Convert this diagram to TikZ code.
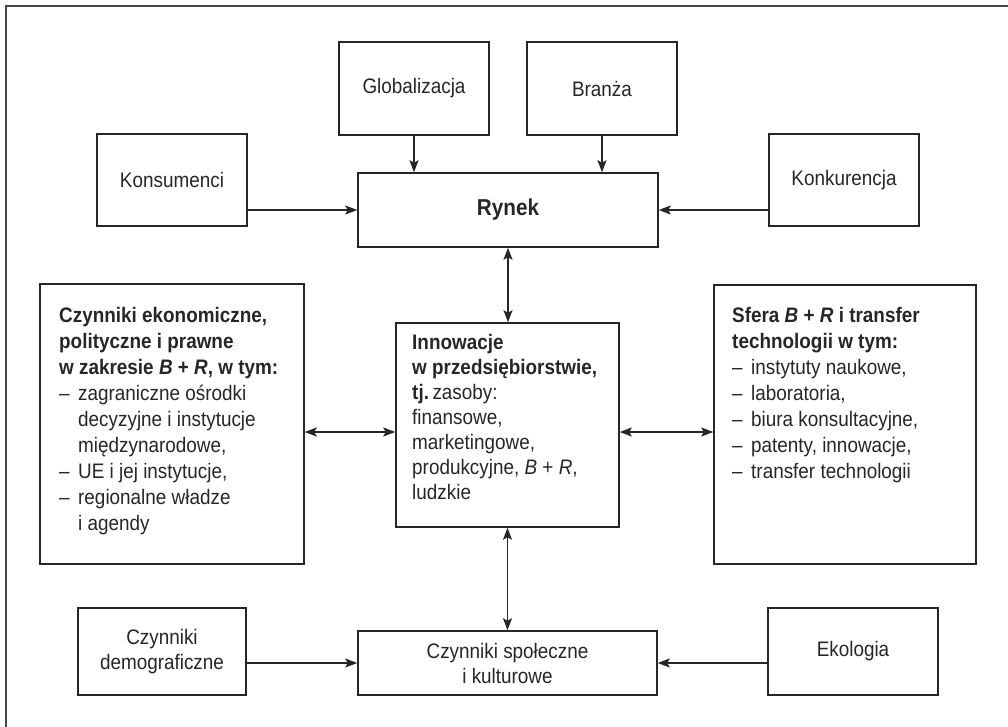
\documentclass[tikz,border=0pt]{standalone}
\usepackage{fontspec}
\setmainfont[FakeStretch=0.9]{Liberation Sans}
\usetikzlibrary{arrows.meta}
\definecolor{ink}{HTML}{262626}
\newcommand{\BR}{\textit{B}~+~\textit{R}}
\newcommand{\itm}{\makebox[19pt][l]{–}}
\newcommand{\ind}{\hspace*{19pt}}
\begin{document}
\begin{tikzpicture}[x=1pt,y=-1pt,
  tip/.tip={Stealth[length=12pt,width=9pt,inset=2.5pt]},
  box/.style={draw=ink, line width=1.5pt, inner sep=0pt, text=ink,
    align=center, font=\fontsize{21}{25}\selectfont},
  body/.style={anchor=north west, inner sep=0pt, text=ink, align=left,
    font=\fontsize{21}{26}\selectfont},
  conn/.style={draw=ink, line width=1.5pt, -tip},
  dconn/.style={draw=ink, line width=1.5pt, tip-tip}]
\useasboundingbox (0,0) rectangle (1008,727);
% open frame: top and left edges only
\draw[ink!85, line width=2pt] (6,727) -- (6,6) -- (1008,6);

% upper row
\node[box, minimum width=150pt, minimum height=93pt] (glob) at (414,88.5) {Globalizacja};
\node[box, minimum width=150pt, minimum height=93pt] (branza) at (602,88.5) {Branża};
\node[box, minimum width=150pt, minimum height=92pt] (kons) at (172,180) {Konsumenci};
\node[box, minimum width=150pt, minimum height=92pt] (konk) at (844,180) {Konkurencja};
\node[box, minimum width=300pt, minimum height=74pt,
  font=\fontsize{23}{28}\selectfont\bfseries] (rynek) at (508,210) {Rynek};

% middle row
\node[box, minimum width=264pt, minimum height=280pt] (czyn) at (172,424) {};
\node[box, minimum width=223pt, minimum height=204pt] (innow) at (507.5,425) {};
\node[box, minimum width=262pt, minimum height=279pt] (sfera) at (845,424.5) {};

\node[body] (czynT) at (59,307) {%
  \textbf{Czynniki ekonomiczne,}\\
  \textbf{polityczne i prawne}\\
  \textbf{w zakresie \BR, w tym:}\\
  \itm zagraniczne ośrodki\\
  \ind decyzyjne i instytucje\\
  \ind międzynarodowe,\\
  \itm UE i jej instytucje,\\
  \itm regionalne władze\\
  \ind i agendy};

\node[body, font=\fontsize{21}{25}\selectfont] (innowT) at (412,334) {%
  \textbf{Innowacje}\\
  \textbf{w przedsiębiorstwie,}\\
  \textbf{tj.}\,zasoby:\\
  finansowe,\\
  marketingowe,\\
  produkcyjne, \BR,\\
  ludzkie};

\node[body] (sferaT) at (732,307) {%
  \textbf{Sfera \BR\ i transfer}\\
  \textbf{technologii w tym:}\\
  \itm instytuty naukowe,\\
  \itm laboratoria,\\
  \itm biura konsultacyjne,\\
  \itm patenty, innowacje,\\
  \itm transfer technologii};

% lower row
\node[box, minimum width=168pt, minimum height=87pt] (demo) at (162,651.5) {Czynniki\\demograficzne};
\node[box, minimum width=299pt, minimum height=64pt] (spol) at (507.5,663) {Czynniki społeczne\\i kulturowe};
\node[box, minimum width=170pt, minimum height=87pt] (eko) at (853,651.5) {Ekologia};

\coordinate (midrow) at (0,432);

% connectors
\draw[conn] (glob.south) -- (glob.south |- rynek.north);
\draw[conn] (branza.south) -- (branza.south |- rynek.north);
\draw[conn] (kons.east |- rynek.west) -- (rynek.west);
\draw[conn] (konk.west |- rynek.east) -- (rynek.east);
\draw[dconn] (rynek.south) -- (rynek.south |- innow.north);
\draw[dconn] (czyn.east |- midrow) -- (innow.west |- midrow);
\draw[dconn] (innow.east |- midrow) -- (sfera.west |- midrow);
\draw[dconn] (innow.south) -- (innow.south |- spol.north);
\draw[conn] (demo.east |- spol.west) -- (spol.west);
\draw[conn] (eko.west |- spol.east) -- (spol.east);
\end{tikzpicture}
\end{document}
